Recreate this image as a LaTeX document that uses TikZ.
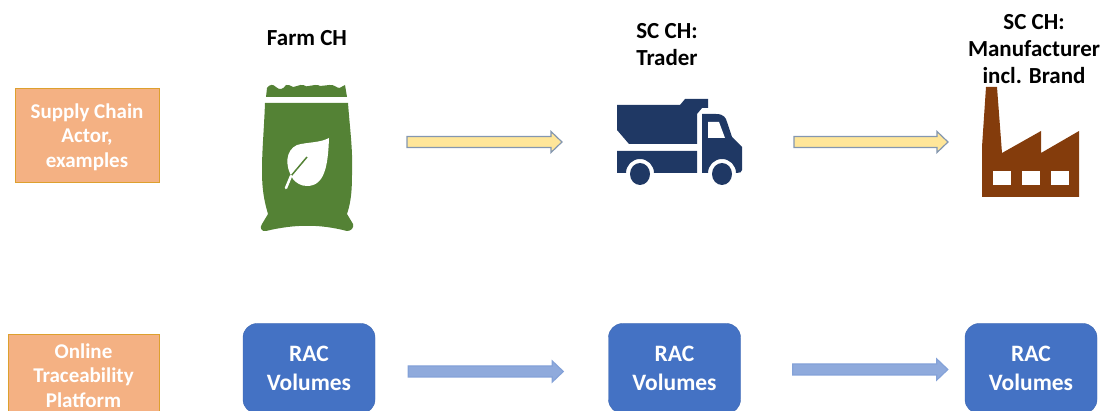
\documentclass[tikz,border=0pt]{standalone}
\usepackage{fontspec}
\setmainfont{Carlito}
\usetikzlibrary{calc}
\definecolor{orangebox}{HTML}{F4B183}
\definecolor{orangeline}{HTML}{DDA02E}
\definecolor{racblue}{HTML}{4472C4}
\definecolor{arrowyellow}{HTML}{FFE699}
\definecolor{arrowblue}{HTML}{8FAADC}
\definecolor{arrowline}{HTML}{8497B0}
\definecolor{baggreen}{HTML}{548235}
\definecolor{truckblue}{HTML}{1F3864}
\definecolor{factorybrown}{HTML}{843C0C}
\begin{document}
\begin{tikzpicture}[
  x=1pt, y=-1pt,
  title/.style={align=center, text=black, font=\fontsize{23}{27}\selectfont\bfseries},
  actorbox/.style={draw=orangeline, line width=1pt, fill=orangebox, inner sep=0pt},
  actortext/.style={text=white, align=center, inner sep=0pt, font=\fontsize{21}{24.5}\selectfont\bfseries},
  racbox/.style={draw=racblue!90!black, fill=racblue, text=white, align=center, rounded corners=14pt,
    minimum width=132pt, minimum height=90pt, inner sep=0pt, font=\fontsize{23.5}{29}\selectfont\bfseries},
  flowarrow/.style n args={2}{draw=#2, fill=#1, line width=1.2pt, line join=miter,
    to path={($(\tikztostart)+(0,-5.5)$) -- ($(\tikztotarget)+(-11,-5.5)$) -- ($(\tikztotarget)+(-11,-10.5)$)
      -- (\tikztotarget) -- ($(\tikztotarget)+(-11,10.5)$) -- ($(\tikztotarget)+(-11,5.5)$)
      -- ($(\tikztostart)+(0,5.5)$) -- cycle}}
  ]
\useasboundingbox (0,0) rectangle (1104,411);
\clip (0,0) rectangle (1104,411);
% Titel
\node[title] (farmtitle) at (307,38) {Farm CH};
\node[title] (tradertitle) at (667,45) {SC CH:\\Trader};
\node[title] (manutitle) at (1034,49) {SC CH:\\Manufacturer\\incl. Brand};
% linke Kaesten
\node[actorbox, minimum width=144pt, minimum height=94pt] (actor) at (87,136) {};
\node[actortext] (actortitle) at (87,137) {Supply Chain\\Actor,\\examples};
\node[actorbox, minimum width=151pt, minimum height=90pt] (platform) at (83.5,380) {};
\node[actortext] (platformtext) at (83.5,375.5) {Online\\Traceability\\Platform};
% Sack
\fill[baggreen] (266,97) -- (267,88) .. controls (270,84) and (273,84) .. (276,87)
  \foreach \i in {0,1,2,3} {.. controls (279,90) and (283,90) .. ({286+\i*14.5},85) .. controls ({290+\i*14.5},84) and ({293+\i*14.5},88) .. ({296+\i*14.5},88)}
  -- (345,85) -- (347,97) -- cycle;
\fill[baggreen] (265,103) -- (348,103) .. controls (350,130) and (353,150) .. (352,175)
  .. controls (352,195) and (350,205) .. (347,214) -- (353,224) .. controls (354,228) and (351,231) .. (347,231)
  .. controls (320,224) and (295,224) .. (266,231) .. controls (262,232) and (259,228) .. (262,224)
  -- (268,214) .. controls (264,200) and (262,190) .. (262,170) .. controls (262,150) and (264,130) .. (265,103) -- cycle;
% Blatt
\fill[white] (329,138) .. controls (328,165) and (325,186) .. (307,186) .. controls (301,186) and (296,183) .. (293,179)
  .. controls (284,165) and (286,150) .. (297,145) .. controls (307,142) and (320,143) .. (329,138) -- cycle;
\draw[baggreen, line width=1.5pt] (307,157) -- (291,176);
\draw[white, line width=2.5pt, line cap=round] (291,176) -- (286,188);
% Lastwagen
\fill[truckblue] (617,105) -- (680,105) -- (685,99) -- (708,99) -- (708,108) -- (702,108) -- (697,114)
  -- (697,144) -- (629,144) -- (617,130) -- cycle;
\fill[truckblue] (617,151) -- (697,151) -- (697,173) -- (654,173) arc (0:-180:14) -- (617,173) -- cycle;
\fill[truckblue] (702,114) -- (716,114) .. controls (724,114) and (726,118) .. (727,122) -- (732,137) -- (742,147)
  -- (742,170) .. controls (742,172) and (740,173) .. (737,173) -- (736,173) arc (0:-180:14) -- (702,173) -- cycle;
\fill[white] (708,122) -- (719,122) -- (725,138) -- (708,138) -- cycle;
\foreach \wheel in {640,722} \fill[truckblue] (\wheel,174) ellipse (10pt and 11pt);
% Fabrik
\fill[factorybrown] (986,87) -- (997,87) -- (1002,153) -- (1041,131) -- (1041,153) -- (1079,131) -- (1079,197)
  -- (982,197) -- (982,147) -- cycle;
\foreach \win in {993,1022,1051} \fill[white] (\win,171) rectangle ++(17.5,14);
% RAC Kaesten
\node[racbox] (racfarm) at (309,368.5) {RAC\\Volumes};
\node[racbox] (ractrader) at (674.5,368.5) {RAC\\Volumes};
\node[racbox] (racmanu) at (1031,368.5) {RAC\\Volumes};
% Punkte fuer die Pfeile
\coordinate (farmout) at (407,142);
\coordinate (traderin) at (562,142);
\coordinate (traderout) at (794,142);
\coordinate (manuin) at (948,142);
\coordinate (racfarmout) at ([shift={(33,3)}]racfarm.east);
\coordinate (ractraderin) at ([shift={(-45,3)}]ractrader.west);
\coordinate (ractraderout) at ([shift={(52,1)}]ractrader.east);
\coordinate (racmanuin) at ([shift={(-17,1)}]racmanu.west);
% Pfeile
\draw[flowarrow={arrowyellow}{arrowline}] (farmout) to (traderin);
\draw[flowarrow={arrowyellow}{arrowline}] (traderout) to (manuin);
\draw[flowarrow={arrowblue}{arrowblue!85!racblue}] (racfarmout) to (ractraderin);
\draw[flowarrow={arrowblue}{arrowblue!85!racblue}] (ractraderout) to (racmanuin);
\end{tikzpicture}
\end{document}
